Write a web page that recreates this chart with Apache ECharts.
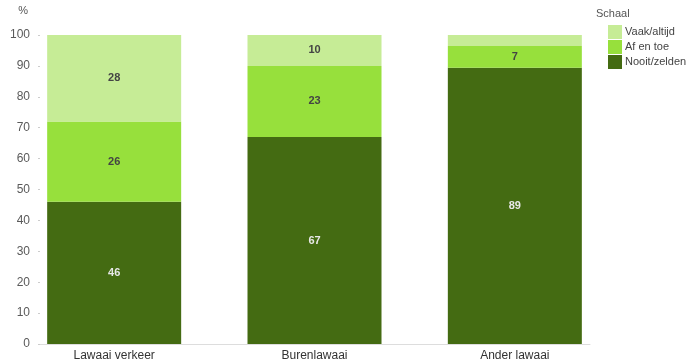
<!DOCTYPE html>
<html>
<head>
<meta charset="utf-8">
<script src="https://cdn.jsdelivr.net/npm/echarts@6/dist/echarts.min.js"></script>
<style>
  html, body { margin: 0; padding: 0; background: #fff; }
  #chart { width: 695px; height: 364px; }
</style>
</head>
<body>
<div id="chart"></div>
<script>
const categories = ['Lawaai verkeer', 'Burenlawaai', 'Ander lawaai'];
const nooitZelden = [46, 67, 89.4];
const afEnToe = [26, 23, 7];
const vaakAltijd = [28, 10, 3.6];
const yTicks = [0, 100, 10];

const myChart = echarts.init(document.getElementById('chart'));
const font = 'Liberation Sans, Arial, sans-serif';

function segment(name, data, color, labelColor) {
  return {
    name: name,
    type: 'bar',
    stack: 'total',
    xAxisIndex: 0,
    yAxisIndex: 0,
    barWidth: 134,
    data: data,
    itemStyle: { color: color },
    label: {
      show: true,
      position: 'inside',
      fontFamily: font,
      fontSize: 11,
      fontWeight: 'bold',
      color: labelColor,
      formatter: p => (p.value < 5 ? '' : Math.round(p.value))
    },
    emphasis: { disabled: true }
  };
}

const option = {
  animation: false,
  textStyle: { fontFamily: font },
  title: {
    text: 'Schaal',
    left: 591,
    top: 3,
    textStyle: { fontSize: 11, fontWeight: 'normal', color: '#555', fontFamily: font }
  },
  legend: {
    data: ['Vaak/altijd', 'Af en toe', 'Nooit/zelden'],
    orient: 'vertical',
    left: 603,
    top: 20,
    itemWidth: 14,
    itemHeight: 14,
    itemGap: 1,
    icon: 'rect',
    selectedMode: false,
    textStyle: { fontSize: 11, color: '#444', fontFamily: font, padding: [0, 0, 0, -2] }
  },
  grid: [
    { left: 14, right: 80, top: 35, bottom: 20 },
    { left: 40, right: 105, top: 35, bottom: 20 }
  ],
  xAxis: [
    {
      type: 'category',
      gridIndex: 0,
      data: categories,
      axisLine: { show: false },
      axisTick: { show: false },
      axisLabel: { fontSize: 12, color: '#333', margin: 6, fontFamily: font }
    },
    {
      type: 'category',
      gridIndex: 1,
      data: [''],
      axisLine: { lineStyle: { color: '#ddd', width: 1 } },
      axisTick: { show: false },
      axisLabel: { show: false }
    }
  ],
  yAxis: [
    {
      type: 'value',
      gridIndex: 0,
      min: yTicks[0],
      max: yTicks[1],
      interval: yTicks[2],
      show: false
    },
    {
      type: 'value',
      gridIndex: 1,
      min: yTicks[0],
      max: yTicks[1],
      interval: yTicks[2],
      name: '%',
      nameLocation: 'end',
      nameGap: 19,
      nameTextStyle: { fontSize: 11, color: '#555', align: 'right', padding: [0, 12, 0, 0], fontFamily: font },
      axisLine: { show: false },
      axisTick: { show: true, length: 2, lineStyle: { color: '#ccc' } },
      splitLine: { show: false },
      axisLabel: { fontSize: 12, color: '#5a5a5a', margin: 10, fontFamily: font }
    }
  ],
  series: [
    segment('Nooit/zelden', nooitZelden, '#446b12', '#e8e8e8'),
    segment('Af en toe', afEnToe, '#97e03c', '#444'),
    segment('Vaak/altijd', vaakAltijd, '#c6ec96', '#444')
  ]
};

myChart.setOption(option);
</script>
</body>
</html>
